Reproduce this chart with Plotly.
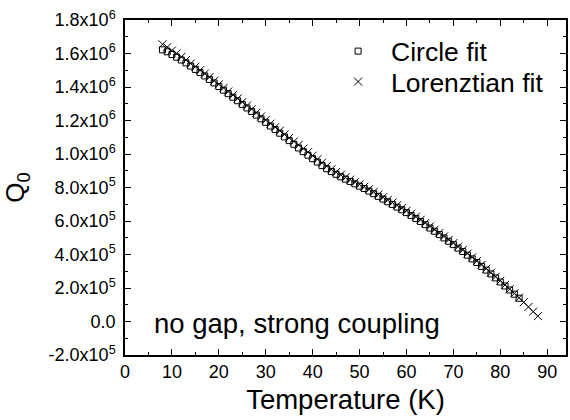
import plotly.graph_objects as go

# Temperature (K)
temp_lor = list(range(8, 89))
q_lor = [1.655, 1.638, 1.618, 1.600, 1.580, 1.561, 1.540, 1.521, 1.500, 1.480,
         1.459, 1.437, 1.416, 1.394, 1.373, 1.352, 1.331, 1.310, 1.289, 1.268,
         1.246, 1.224, 1.203, 1.181, 1.160, 1.139, 1.117, 1.096, 1.075, 1.054,
         1.032, 1.011, 0.990, 0.969, 0.948, 0.928, 0.909, 0.892, 0.876, 0.861,
         0.847, 0.833, 0.819, 0.805, 0.790, 0.774, 0.758, 0.742, 0.726, 0.710,
         0.694, 0.677, 0.661, 0.644, 0.626, 0.607, 0.588, 0.568, 0.548, 0.528,
         0.508, 0.488, 0.468, 0.447, 0.427, 0.405, 0.383, 0.361, 0.338, 0.315,
         0.291, 0.267, 0.243, 0.218, 0.193, 0.168, 0.142, 0.115, 0.087, 0.059,
         0.032]

temp_circ = list(range(8, 85))
q_circ = [1.622, 1.610, 1.594, 1.578, 1.561, 1.544, 1.525, 1.505, 1.486, 1.466,
          1.445, 1.424, 1.403, 1.381, 1.360, 1.339, 1.318, 1.296, 1.275, 1.254,
          1.232, 1.210, 1.189, 1.167, 1.146, 1.124, 1.102, 1.080, 1.058, 1.036,
          1.014, 0.993, 0.972, 0.952, 0.931, 0.912, 0.895, 0.879, 0.864, 0.850,
          0.836, 0.822, 0.808, 0.794, 0.779, 0.763, 0.747, 0.731, 0.715, 0.699,
          0.683, 0.667, 0.650, 0.633, 0.615, 0.597, 0.578, 0.558, 0.539, 0.519,
          0.499, 0.479, 0.459, 0.438, 0.418, 0.396, 0.374, 0.352, 0.329, 0.307,
          0.284, 0.260, 0.236, 0.212, 0.188, 0.163, 0.139]

y_tick_vals = [-2e5, 0, 2e5, 4e5, 6e5, 8e5, 1.0e6, 1.2e6, 1.4e6, 1.6e6, 1.8e6]
y_tick_text = ["-2.0x10<sup>5</sup>", "0.0", "2.0x10<sup>5</sup>", "4.0x10<sup>5</sup>",
               "6.0x10<sup>5</sup>", "8.0x10<sup>5</sup>", "1.0x10<sup>6</sup>",
               "1.2x10<sup>6</sup>", "1.4x10<sup>6</sup>", "1.6x10<sup>6</sup>",
               "1.8x10<sup>6</sup>"]
x_tick_vals = [0, 10, 20, 30, 40, 50, 60, 70, 80, 90]

font_family = "Liberation Sans, Arial, sans-serif"

fig = go.Figure()
fig.add_trace(go.Scatter(
    x=temp_circ, y=[v * 1e6 for v in q_circ], mode="markers", name="Circle fit",
    legend="legend", showlegend=True,
    marker=dict(symbol="square-open", size=6, color="black", line=dict(width=1))))
fig.add_trace(go.Scatter(
    x=temp_lor, y=[v * 1e6 for v in q_lor], mode="markers", name="Lorenztian fit",
    legend="legend2", showlegend=True,
    marker=dict(symbol="x-thin-open", size=8, color="black", line=dict(width=1, color="black"))))

fig.add_annotation(x=0.061, y=0.0955, xref="paper", yref="paper", xanchor="left", yanchor="middle",
                   text="no gap, strong coupling", showarrow=False,
                   font=dict(size=27.5, color="black", family=font_family))

axis_common = dict(showline=True, linecolor="black", linewidth=1.5, mirror="ticks",
                   ticks="inside", ticklen=6, tickcolor="black", tickwidth=1.2,
                   showgrid=False, zeroline=False,
                   tickfont=dict(size=18, color="black", family=font_family))

fig.update_xaxes(range=[0, 94], tickvals=x_tick_vals,
                 minor=dict(ticks="inside", ticklen=3, dtick=5, tickcolor="black"),
                 title=dict(text="Temperature (K)", font=dict(size=27.5, color="black", family=font_family), standoff=8),
                 **axis_common)
fig.update_yaxes(range=[-2e5, 1.8e6], tickvals=y_tick_vals, ticktext=y_tick_text,
                 minor=dict(ticks="inside", ticklen=3, dtick=1e5, tickcolor="black"),
                 ticklabelstandoff=4,
                 title=dict(text="Q<sub>0</sub>", font=dict(size=26, color="black", family=font_family), standoff=16),
                 **axis_common)

legend_common = dict(xanchor="left", yanchor="top", bgcolor="rgba(0,0,0,0)",
                     font=dict(size=26.5, color="black", family=font_family), itemwidth=56,
                     visible=True)

fig.update_layout(
    width=570, height=420,
    margin=dict(l=125, r=2, t=20, b=65),
    paper_bgcolor="white", plot_bgcolor="white",
    showlegend=True,
    font=dict(family=font_family, color="black"),
    legend=dict(x=0.4537, y=0.978, **legend_common),
    legend2=dict(x=0.4537, y=0.887, **legend_common),
)

fig.write_html("out.html", config={"displayModeBar": False},
               post_script="document.body.style.margin='0';")
